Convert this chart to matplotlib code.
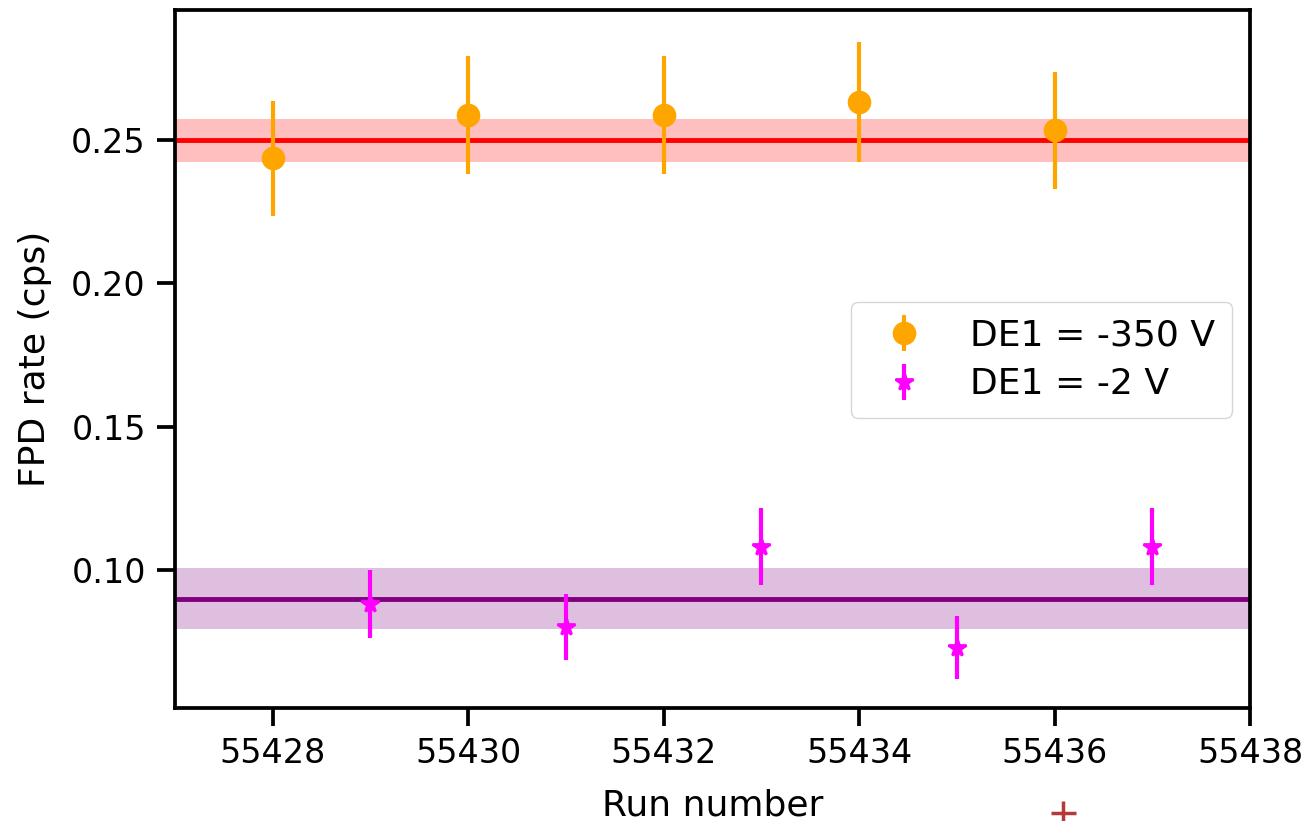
import matplotlib
matplotlib.use("Agg")
import matplotlib.pyplot as plt
from matplotlib.lines import Line2D

# FPD rate per run at DE1 = -350 V
runs_hv = [55428, 55430, 55432, 55434, 55436]
rate_hv = [0.2436, 0.2587, 0.2587, 0.2632, 0.2535]
err_hv = [0.0201, 0.0207, 0.0207, 0.0209, 0.0204]

# FPD rate per run at DE1 = -2 V
runs_lv = [55429, 55431, 55433, 55435, 55437]
rate_lv = [0.0881, 0.0802, 0.1081, 0.0728, 0.1081]
err_lv = [0.0120, 0.0115, 0.0134, 0.0110, 0.0134]

# Mean rates and their uncertainty bands
mean_hv, band_hv = 0.250, 0.0075
mean_lv, band_lv = 0.090, 0.0105

xlim = (55427, 55438)
ylim = (0.0518, 0.2954)
xticks = [55428, 55430, 55432, 55434, 55436, 55438]
yticks = [0.10, 0.15, 0.20, 0.25]

fig = plt.figure(figsize=(13.11, 8.21), dpi=100)
ax = fig.add_axes([0.1335, 0.1376, 0.82, 0.8502])

ax.axhspan(mean_hv - band_hv, mean_hv + band_hv, color="red", alpha=0.25, lw=0, zorder=1)
ax.axhline(mean_hv, color="red", lw=3.5, zorder=2)
ax.axhspan(mean_lv - band_lv, mean_lv + band_lv, color="purple", alpha=0.25, lw=0, zorder=1)
ax.axhline(mean_lv, color="purple", lw=3.5, zorder=2)

ax.errorbar(runs_hv, rate_hv, yerr=err_hv, fmt="o", color="orange", ms=16,
            elinewidth=3, capsize=0, label="DE1 = -350 V", zorder=3)
ax.errorbar(runs_lv, rate_lv, yerr=err_lv, fmt="*", color="magenta", ms=13, mew=2,
            elinewidth=3, capsize=0, label="DE1 = -2 V", zorder=3)

ax.set_xlim(*xlim)
ax.set_ylim(*ylim)
ax.set_xticks(xticks)
ax.set_xticklabels([str(t) for t in xticks])
ax.set_yticks(yticks)
ax.set_yticklabels([f"{t:.2f}" for t in yticks])

for s in ax.spines.values():
    s.set_linewidth(2.7)
ax.tick_params(axis="both", which="major", labelsize=24, width=2.7, length=13, pad=8)

ax.set_xlabel("Run number", fontsize=26, labelpad=13)
ax.set_ylabel("FPD rate (cps)", fontsize=26, labelpad=14)

ax.legend(loc="upper right", bbox_to_anchor=(0.983, 0.5817), borderaxespad=0,
          fontsize=26, handlelength=2.05, handletextpad=0.8, borderpad=0.45,
          labelspacing=0.42)

# small red cross below the axis
fig.add_artist(Line2D([0.8105], [0.0097], transform=fig.transFigure, marker="+",
                      color="#b23a3a", ms=18, mew=2.5, lw=0))

fig.savefig("out.png", dpi=100)
